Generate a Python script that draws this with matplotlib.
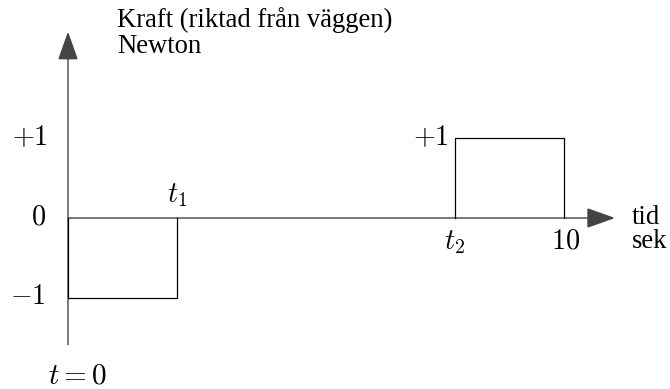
import matplotlib
matplotlib.use('Agg')
import matplotlib.pyplot as plt
from matplotlib.patches import FancyArrowPatch

plt.rcParams['font.family'] = ['Liberation Serif', 'DejaVu Serif']
plt.rcParams['mathtext.fontset'] = 'cm'

# force pulses: (start, end, level)
t1 = 2.2
t2 = 7.8
t_end = 10
pulse_starts = [0, t2]
pulse_ends = [t1, t_end]
pulse_levels = [-1, 1]

fig = plt.figure(figsize=(6.7, 3.89), dpi=100)
ax = fig.add_axes([0, 0, 1, 1])
ax.set_xlim(-1.371, 12.137)
ax.set_ylim(-2.1375, 2.725)
ax.axis('off')

# axes with arrowheads
axis_col = '#444444'
for (x0, y0), (x1, y1) in [((0, -1.59), (0, 2.33)), ((0, 0), (11.03, 0))]:
    ax.add_patch(FancyArrowPatch((x0, y0), (x1, y1), arrowstyle='-|>,head_length=0.9,head_width=0.32',
                                 mutation_scale=20, color=axis_col, lw=1.0, shrinkA=0, shrinkB=0,
                                 joinstyle='miter', capstyle='butt'))

# rectangular pulses
for a, b, lev in zip(pulse_starts, pulse_ends, pulse_levels):
    ax.plot([a, a, b, b], [0, lev, lev, 0], color='black', lw=0.9)

fs = 19.2   # plain text
ms = 20.3   # math labels
ax.text(0.99, 2.475, 'Kraft (riktad från väggen)', fontsize=fs, ha='left', va='center')
ax.text(0.99, 2.14, 'Newton', fontsize=fs, ha='left', va='center')
ax.text(-0.4, 1, r'$+1$', fontsize=ms, ha='right', va='center')
ax.text(-0.45, 0, r'$0$', fontsize=ms, ha='right', va='center')
ax.text(-0.45, -1, r'$-1$', fontsize=ms, ha='right', va='center')
ax.text(t1, 0.28, r'$t_1$', fontsize=ms, ha='center', va='center')
ax.text(t2 - 0.12, 1, r'$+1$', fontsize=ms, ha='right', va='center')
ax.text(t2, -0.3, r'$t_2$', fontsize=ms, ha='center', va='center')
ax.text(t_end + 0.03, -0.3, r'$10$', fontsize=ms, ha='center', va='center')
ax.text(11.37, 0, 'tid', fontsize=fs, ha='left', va='center')
ax.text(11.37, -0.3, 'sek', fontsize=fs, ha='left', va='center')
ax.text(0.2, -1.98, r'$t = 0$', fontsize=ms + 0.7, ha='center', va='center')

fig.savefig('out.png', dpi=100)
